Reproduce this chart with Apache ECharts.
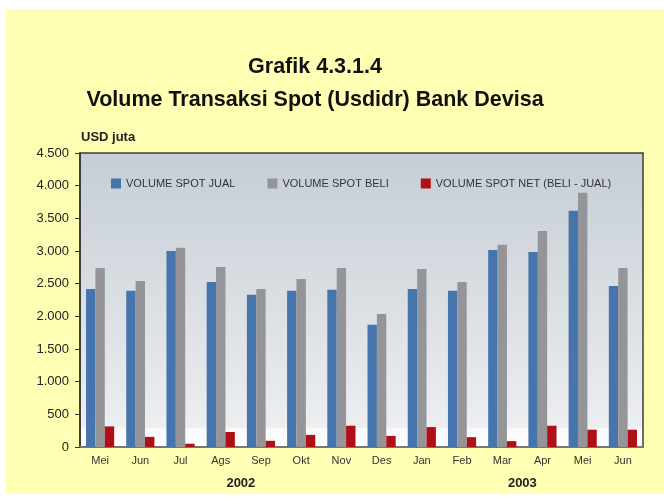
<!DOCTYPE html>
<html>
<head>
<meta charset="utf-8">
<script src="https://cdn.jsdelivr.net/npm/echarts@6/dist/echarts.min.js"></script>
<style>
  body { margin: 0; background: #fff; }
  #panel { position: absolute; left: 6px; top: 9px; width: 658px; height: 485px; background: #ffffb4; }
  #chart { position: absolute; left: 0; top: 0; width: 664px; height: 497px; }
</style>
</head>
<body>
<div id="panel"></div>
<div id="chart"></div>
<script>
// months May 2002 - Jun 2003
const months = ['Mei', 'Jun', 'Jul', 'Ags', 'Sep', 'Okt', 'Nov', 'Des', 'Jan', 'Feb', 'Mar', 'Apr', 'Mei', 'Jun'];
const spotJual = [2420, 2390, 3000, 2525, 2330, 2390, 2405, 1870, 2420, 2390, 3015, 2985, 3615, 2465];
const spotBeli = [2740, 2540, 3050, 2755, 2420, 2570, 2740, 2035, 2725, 2525, 3095, 3305, 3890, 2740];
const spotNet = [315, 155, 50, 230, 95, 185, 325, 170, 305, 150, 90, 325, 265, 265];
const years = ['2002', '2003'];
const yearAt = [4, 11]; // boundary position on the month axis

const names = ['VOLUME SPOT JUAL', 'VOLUME SPOT BELI', 'VOLUME SPOT NET (BELI - JUAL)'];
const colors = ['#4674ad', '#949499', '#b00f17'];

let myChart = echarts.init(document.getElementById('chart'));

function fmt(v) {
  return String(v).replace(/\B(?=(\d{3})+(?!\d))/g, '.');
}

let series = [spotJual, spotBeli, spotNet].map((d, i) => ({
  name: names[i],
  type: 'bar',
  data: d,
  barGap: '0%',
  barCategoryGap: '30%',
  itemStyle: { color: colors[i] }
}));

let options = {
  textStyle: { fontFamily: 'Liberation Sans, Arial, sans-serif' },
  title: [
    {
      text: 'Grafik 4.3.1.4\nVolume Transaksi Spot (Usdidr) Bank Devisa',
      left: 310,
      top: 46,
      textAlign: 'center',
      textStyle: { fontSize: 21.5, fontWeight: 'bold', color: '#111', lineHeight: 33 }
    },
    {
      text: 'USD juta',
      left: 81,
      top: 131,
      padding: 0,
      textStyle: { fontSize: 13, fontWeight: 'bold', color: '#222' }
    }
  ],
  legend: {
    data: names,
    left: 106,
    top: 173,
    itemWidth: 10,
    itemHeight: 10,
    itemGap: 32,
    icon: 'rect',
    textStyle: { fontSize: 11, color: '#333' }
  },
  grid: {
    left: 80, right: 21, top: 153, bottom: 50,
    show: true,
    borderColor: '#3c3c3c',
    borderWidth: 1.5,
    backgroundColor: new echarts.graphic.LinearGradient(0, 0, 0, 1, [
      { offset: 0, color: '#c5cdd5' },
      { offset: 0.93, color: '#eceef0' },
      { offset: 0.935, color: '#f8faf9' },
      { offset: 1, color: '#fdfefd' }
    ])
  },
  xAxis: [
    {
      type: 'category',
      data: months,
      axisLine: { lineStyle: { color: '#777', width: 2 } },
      axisTick: { length: 5, lineStyle: { color: '#333' } },
      axisLabel: { fontSize: 11, color: '#333', margin: 8 }
    },
    {
      type: 'value',
      min: 0,
      max: months.length,
      interval: 1,
      position: 'bottom',
      offset: 22,
      axisLine: { show: false },
      axisTick: { show: false },
      splitLine: { show: false },
      axisLabel: {
        fontSize: 13,
        fontWeight: 'bold',
        color: '#222',
        formatter: v => { let k = yearAt.indexOf(v); return k >= 0 ? years[k] : ''; }
      }
    }
  ],
  yAxis: {
    type: 'value',
    min: 0,
    max: 4500,
    interval: 500,
    axisLine: { show: true, lineStyle: { color: '#333', width: 1.5 } },
    axisTick: { show: true, length: 5, lineStyle: { color: '#333' } },
    splitLine: { show: false },
    axisLabel: { fontSize: 13, color: '#222', margin: 11, formatter: fmt }
  },
  series: series
};
myChart.setOption(options);
</script>
</body>
</html>
